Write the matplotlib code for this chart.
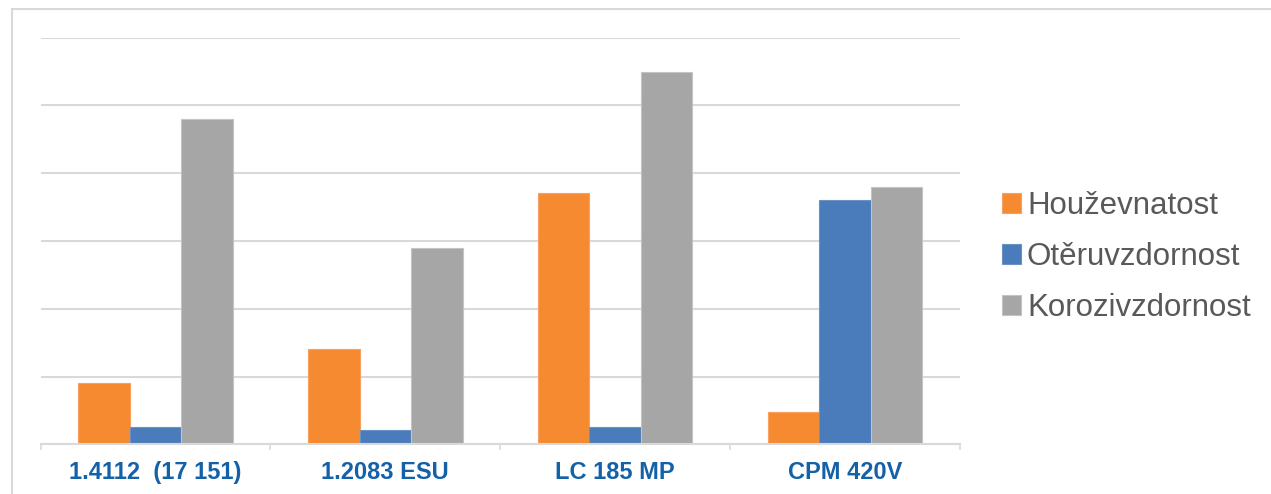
import matplotlib
matplotlib.use("Agg")
import matplotlib.pyplot as plt
from matplotlib.patches import Rectangle
import numpy as np

categories = ["1.4112  (17 151)", "1.2083 ESU", "LC 185 MP", "CPM 420V"]
series_names = ["Houževnatost", "Otěruvzdornost", "Korozivzdornost"]
houzevnatost = [0.91, 1.41, 3.71, 0.48]
oteruvzdornost = [0.25, 0.21, 0.25, 3.61]
korozivzdornost = [4.80, 2.90, 5.50, 3.80]
colors = ["#F58A31", "#4A7BBA", "#A6A6A6"]
edge_colors = ["#F7A060", "#6A92C6", "#C4C4C4"]

plt.rcParams['font.family'] = ['Liberation Sans', 'DejaVu Sans']

fig = plt.figure(figsize=(12.71, 4.94), dpi=100)
W, H = 1271, 494
ax = fig.add_axes([40.5 / W, 1 - 444.3 / H, (960 - 40.5) / W, (444.3 - 37.7) / H])

x = np.arange(len(categories))
bw = 0.224
data = [houzevnatost, oteruvzdornost, korozivzdornost]
for i, (vals, name) in enumerate(zip(data, series_names)):
    ax.bar(x + (i - 1) * bw, vals, width=bw, color=colors[i], label=name,
           edgecolor=edge_colors[i], linewidth=0.8, zorder=3)

ax.set_xlim(-0.5, len(categories) - 0.5)
ax.set_ylim(0, 6)
ax.set_yticks(np.arange(0, 7, 1))
ax.yaxis.grid(True, color="#D9D9D9", linewidth=1.5, zorder=0)
ax.tick_params(axis='y', length=0, labelleft=False)
for s in ["top", "right", "left"]:
    ax.spines[s].set_visible(False)
ax.spines["bottom"].set_color("#D9D9D9")
ax.spines["bottom"].set_linewidth(1.5)
ax.spines["bottom"].set_zorder(4)

ax.set_xticks(x)
ax.set_xticklabels(categories, fontsize=17, fontweight="bold", color="#1461A8")
ax.tick_params(axis='x', which='major', length=0, pad=12)
ax.set_xticks(np.arange(-0.5, len(categories), 1), minor=True)
ax.tick_params(axis='x', which='minor', length=4.5, width=1.2, color="#D9D9D9")

leg = fig.legend(loc="center left", bbox_to_anchor=(1002 / W, 1 - 257 / H),
                 frameon=False, fontsize=22.5, handlelength=0.6, handleheight=0.6,
                 handletextpad=0.2, labelspacing=0.68, borderpad=0, borderaxespad=0)
for t in leg.get_texts():
    t.set_color("#595959")

# outer chart border
fig.patches.append(Rectangle((11.7 / W, -0.1), 1.2, 1.1 - 9 / H,
                             transform=fig.transFigure, fill=False,
                             edgecolor="#D9D9D9", linewidth=1.5))

fig.savefig("out.png", dpi=100)
